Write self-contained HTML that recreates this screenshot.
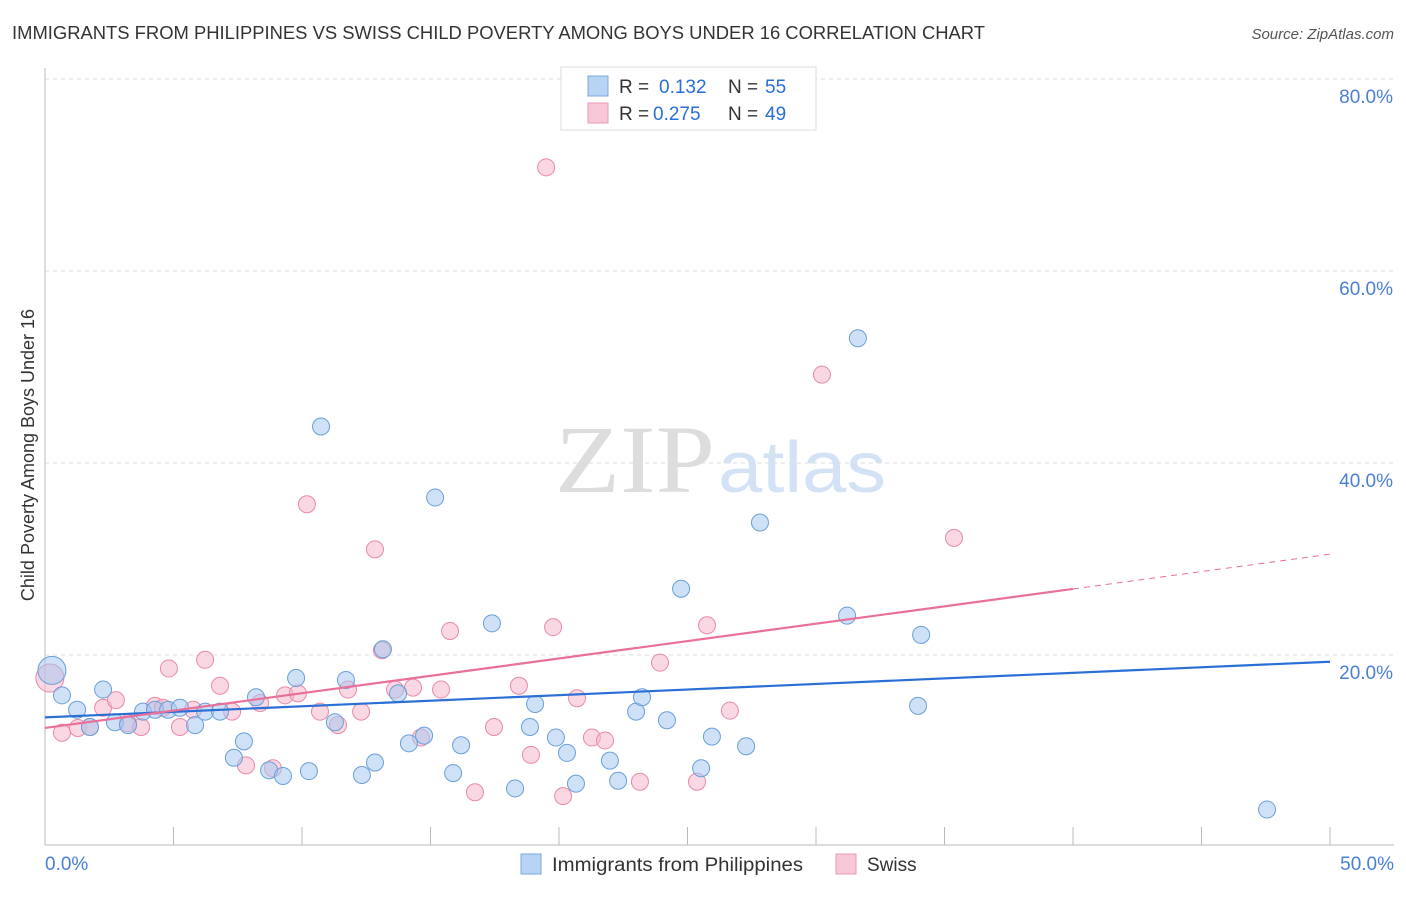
<!DOCTYPE html>
<html><head><meta charset="utf-8"><style>
body{margin:0;background:#fff;font-family:"Liberation Sans",sans-serif}
</style></head><body>
<svg id="c" width="1406" height="892" xmlns="http://www.w3.org/2000/svg">
<text x="12" y="39" font-size="18" fill="#333" textLength="973" lengthAdjust="spacingAndGlyphs">IMMIGRANTS FROM PHILIPPINES VS SWISS CHILD POVERTY AMONG BOYS UNDER 16 CORRELATION CHART</text>
<text x="1394" y="39" font-size="15" fill="#555" font-style="italic" text-anchor="end">Source: ZipAtlas.com</text>
<text x="555" y="492" font-size="96" fill="#ddd" textLength="160" lengthAdjust="spacingAndGlyphs" font-family="Liberation Serif,serif">ZIP</text>
<text x="718" y="492" font-size="72" fill="#d4e2f5" textLength="168" lengthAdjust="spacingAndGlyphs">atlas</text>
<text transform="translate(34,455) rotate(-90)" font-size="18" fill="#333" text-anchor="middle">Child Poverty Among Boys Under 16</text>
<g id="grid"></g><g id="marks"></g>
<g>
<rect x="561" y="67" width="255" height="63" fill="#fff" stroke="#ddd"/>
<rect x="588" y="76" width="20" height="20" fill="#b8d4f5" stroke="#7aa8e0"/>
<rect x="588" y="103" width="20" height="20" fill="#f8c8d8" stroke="#e898b4"/>
<text y="93" font-size="19" fill="#333"><tspan x="619">R =</tspan><tspan x="659" fill="#2a6fd6">0.132</tspan><tspan x="728">N =</tspan><tspan x="765" fill="#2a6fd6">55</tspan></text>
<text y="120" font-size="19" fill="#333"><tspan x="619">R =</tspan><tspan x="653" fill="#2a6fd6">0.275</tspan><tspan x="728">N =</tspan><tspan x="765" fill="#2a6fd6">49</tspan></text>
</g>
<g>
<rect x="521" y="854" width="20" height="20" fill="#b8d4f5" stroke="#7aa8e0"/>
<text x="552" y="871" font-size="19" fill="#333" textLength="251" lengthAdjust="spacingAndGlyphs">Immigrants from Philippines</text>
<rect x="836" y="854" width="20" height="20" fill="#f8c8d8" stroke="#e898b4"/>
<text x="867" y="871" font-size="19" fill="#333">Swiss</text>
</g>
</svg>
<script>
const xTicks=[0,5,10,15,20,25,30,35,40,45,50];
const yTicks=[20,40,60,80];
const blueX=[0.27,0.66,1.25,1.75,2.26,2.72,3.23,3.81,4.28,4.79,5.25,5.84,6.23,6.81,7.35,7.74,8.21,8.72,9.26,9.77,10.27,10.74,11.28,11.71,12.33,12.84,13.15,13.74,14.16,14.75,15.18,15.88,16.19,17.39,18.29,18.87,19.07,19.88,20.31,20.66,21.98,22.30,23.0,23.23,24.2,24.75,25.53,25.95,27.28,27.82,31.21,31.63,33.97,34.09,47.55];
const blueY=[18.4,15.8,14.3,12.5,16.4,13.0,12.7,14.1,14.3,14.3,14.5,12.7,14.1,14.1,9.3,11.0,15.6,8.0,7.4,17.6,7.9,43.8,13.0,17.4,7.5,8.8,20.6,16.0,10.8,11.6,36.4,7.7,10.6,23.3,6.1,12.5,14.9,11.4,9.8,6.6,9.0,6.9,14.1,15.6,13.2,26.9,8.2,11.5,10.5,33.8,24.1,53.0,14.7,22.1,3.9];
const pinkX=[0.19,0.66,1.28,1.75,2.26,2.76,3.23,3.74,4.28,4.59,4.82,5.25,5.76,6.23,6.81,7.28,7.82,8.37,8.87,9.34,9.84,10.19,10.70,11.40,11.79,12.30,12.84,13.11,13.62,14.32,14.63,15.41,15.76,16.73,17.47,18.44,18.91,19.5,19.77,20.16,20.70,21.28,21.79,23.15,23.93,25.37,25.76,26.65,30.23,35.37];
const pinkY=[17.6,11.9,12.4,12.5,14.5,15.3,12.9,12.5,14.7,14.5,18.6,12.5,14.3,19.5,16.8,14.1,8.5,15.0,8.2,15.8,16.0,35.7,14.1,12.7,16.4,14.1,31.0,20.5,16.4,16.6,11.4,16.4,22.5,5.7,12.5,16.8,9.6,70.8,22.9,5.3,15.5,11.4,11.1,6.8,19.2,6.8,23.1,14.2,49.2,32.2];
const blueTrend=[13.5,19.3];
const pinkTrend=[12.4,30.5];
const NS="http://www.w3.org/2000/svg";
const X=v=>45+v*25.7, Y=v=>847-v*9.6;
function mk(tag,at,parent){const e=document.createElementNS(NS,tag);for(const k in at)e.setAttribute(k,at[k]);document.getElementById(parent).appendChild(e);return e;}
yTicks.forEach(t=>{
 const l=mk('line',{x1:45,x2:1394,y1:Y(t),y2:Y(t),stroke:'#ddd','stroke-dasharray':'4,4'},'grid');
 
 
 const tx=mk('text',{x:1393,y:Y(t)+24,'font-size':19,fill:'#4a7fd6','text-anchor':'end'},'grid');
 tx.textContent=t.toFixed(1)+'%';
 
 
});
const ax=mk('line',{x1:45,x2:1394,y1:845,y2:845,stroke:'#bbb'},'grid');


const ay=mk('line',{x1:45,x2:45,y1:68,y2:845,stroke:'#bbb'},'grid');


xTicks.forEach(t=>{
 const l=mk('line',{x1:X(t),x2:X(t),y1:827,y2:845,stroke:'#bbb'},'grid');
 
 
});
[[0,'start',45],[50,'end',1394]].forEach(([t,a,x])=>{
 const tx=mk('text',{x:x,y:870,'font-size':19,fill:'#4a7fd6','text-anchor':a},'grid');
 tx.textContent=t.toFixed(1)+'%';
 
 
});
function dots(xs,ys,fill,stroke,name){
 xs.forEach((x,i)=>{
  const c=mk('circle',{cx:X(x),cy:Y(ys[i]),r:i===0?14:8.5,fill:fill,'fill-opacity':0.55,stroke:stroke,'stroke-width':1},'marks');
  
  
 });
}
dots(pinkX,pinkY,'#f5b8cc','#e88aa8','swiss-point');
dots(blueX,blueY,'#a8c8f0','#6a9fd8','philippines-point');
const bt=mk('line',{x1:X(0),y1:Y(blueTrend[0]),x2:X(50),y2:Y(blueTrend[1]),stroke:'#2a6fd6','stroke-width':2.2},'marks');


const pAt=v=>pinkTrend[0]+(pinkTrend[1]-pinkTrend[0])*v/50;
const pt=mk('line',{x1:X(0),y1:Y(pAt(0)),x2:X(40),y2:Y(pAt(40)),stroke:'#e8709a','stroke-width':2.2},'marks');


const pd=mk('line',{x1:X(40),y1:Y(pAt(40)),x2:X(50),y2:Y(pAt(50)),stroke:'#e8709a','stroke-width':1,'stroke-dasharray':'6,5'},'marks');


</script>
</body></html>
